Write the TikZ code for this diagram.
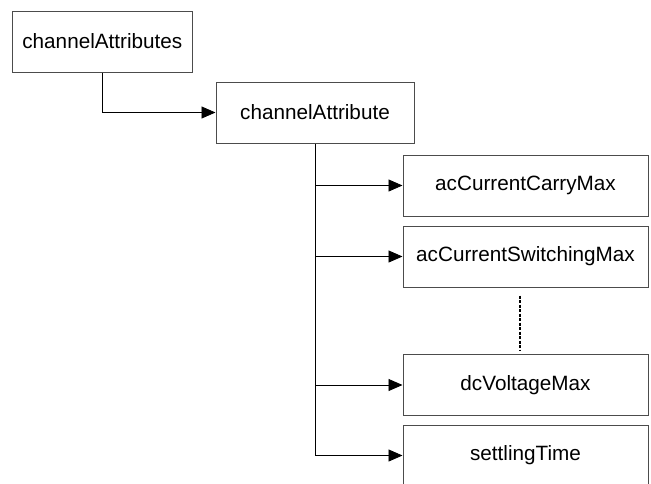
\documentclass[tikz,border=0pt]{standalone}
\usepackage{fontspec}
\setmainfont{Liberation Sans}
\usetikzlibrary{arrows.meta}
\begin{document}
\begin{tikzpicture}[x=1pt,y=-1pt,
  box/.style={draw=black!70,line width=1pt,fill=white,rectangle,inner sep=0pt,
    font=\fontsize{20.7}{24}\selectfont},
  conn/.style={draw=black,line width=0.9pt},
  arr/.style={conn,-{Triangle[length=14pt,width=12pt]}}]
\useasboundingbox (0,0) rectangle (651,483);
\clip (0,0) rectangle (651,483);
\node[box,minimum width=179.3pt,minimum height=61pt] (b1) at (102.35,41.5) {channelAttributes};
\node[box,minimum width=198pt,minimum height=61pt] (b2) at (315,112.5) {channelAttribute};
\node[box,minimum width=245pt,minimum height=61pt] (c1) at (525.5,185.5) {acCurrentCarryMax};
\node[box,minimum width=245pt,minimum height=61pt] (c2) at (525.5,256.5) {acCurrentSwitchingMax};
\node[box,minimum width=245pt,minimum height=61pt] (c3) at (525.5,385) {dcVoltageMax};
\node[box,minimum width=245pt,minimum height=61pt] (c4) at (525.5,455.5) {settlingTime};
\draw[arr] (b1.south) |- (b2.west);
\draw[arr] (b2.south) |- (c4.west);
\draw[arr] (b2.south |- c1.west) -- (c1.west);
\draw[arr] (b2.south |- c2.west) -- (c2.west);
\draw[arr] (b2.south |- c3.west) -- (c3.west);
\coordinate (d1) at ([xshift=-5.5pt,yshift=-8pt]c2.south);
\coordinate (d2) at ([xshift=-5.5pt,yshift=3pt]c3.north);
\draw[conn,line width=1.2pt,dash pattern=on 3pt off 1.5pt] (d1) -- (d2);
\end{tikzpicture}
\end{document}
